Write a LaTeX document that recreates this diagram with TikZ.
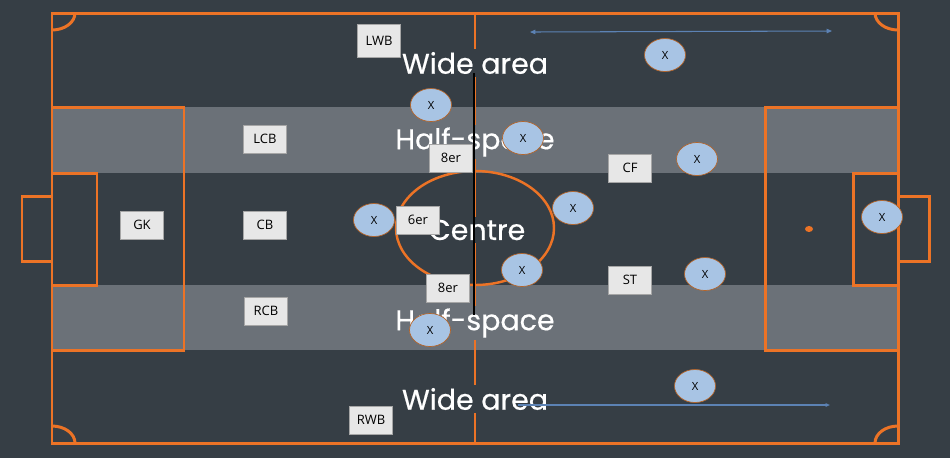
\documentclass[tikz,border=0pt]{standalone}
\usepackage{fontspec}
\setmainfont{Open Sans}
\newfontfamily\zonefont{Poppins}[FakeBold=0.5]
\usetikzlibrary{arrows.meta, shapes.geometric}

\definecolor{pitchbg}{RGB}{54,62,69}
\definecolor{bandgray}{RGB}{107,113,120}
\definecolor{lineorange}{RGB}{236,115,38}
\definecolor{oppblue}{RGB}{168,196,228}
\definecolor{oppedge}{RGB}{181,101,42}
\definecolor{boxgray}{RGB}{231,231,231}
\definecolor{boxedge}{RGB}{166,166,166}
\definecolor{runblue}{RGB}{92,130,180}

\begin{document}
\begin{tikzpicture}[x=0.02cm, y=-0.02cm,
    pitchline/.style={draw=lineorange, line width=1.7pt},
    zone/.style={font=\zonefont\fontsize{16.2}{16}\selectfont, text=white, inner sep=1.5pt},
    player/.style={draw=boxedge, fill=boxgray, minimum width=0.86cm, minimum height=0.56cm, inner sep=1pt, font=\fontsize{7.4}{8}\selectfont},
    opp/.style={ellipse, draw=oppedge, fill=oppblue, minimum width=0.82cm, minimum height=0.66cm, inner sep=0pt, font=\fontsize{6.4}{7}\selectfont},
    run/.style={draw=runblue, line width=0.6pt}]
    % background and bands
    \fill[pitchbg] (0,0) rectangle (950,458);
    \useasboundingbox (0,0) rectangle (950,458);
    \fill[bandgray] (52,107) rectangle (898,173);
    \fill[bandgray] (52,285) rectangle (898,350);
    % pitch lines
    \draw[pitchline] (52,13) rectangle (898,443);
    \draw[pitchline] (52,107) rectangle (184,350);
    \draw[pitchline] (52,173) rectangle (97,285);
    \draw[pitchline] (22,196) rectangle (52,261);
    \draw[pitchline] (765,107) rectangle (898,350);
    \draw[pitchline] (853,173) rectangle (898,285);
    \draw[pitchline] (898,196) rectangle (929,261);
    \draw[pitchline] (75,13) arc[start angle=0, end angle=90, x radius=23, y radius=17];
    \draw[pitchline] (875,13) arc[start angle=180, end angle=90, x radius=23, y radius=17];
    \draw[pitchline] (75,443) arc[start angle=0, end angle=-90, x radius=23, y radius=17];
    \draw[pitchline] (875,443) arc[start angle=180, end angle=270, x radius=23, y radius=17];
    \draw[pitchline] (475,13) -- (475,443);
    \draw[pitchline, line width=1.4pt] (475,228) ellipse[x radius=79, y radius=57];
    \fill[lineorange] (809,229) ellipse[x radius=4, y radius=3];
    % zones
    \node[zone, fill=pitchbg] (wideT) at (475,63) {Wide area};
    \node[zone, fill=bandgray] (halfT) at (475,142) {Half-space};
    \node[zone, fill=pitchbg] (centre) at (477,230) {Centre};
    \node[zone, fill=bandgray] (halfB) at (475,323) {Half-space};
    \node[zone, fill=pitchbg] (wideB) at (475,399) {Wide area};
    \draw[black, line width=1.2pt] (474,73) -- (474,315);
    % runs
    \coordinate (runTa) at (530,32);
    \coordinate (runTb) at (832,31);
    \coordinate (runBa) at (518,405);
    \coordinate (runBb) at (830,405);
    \draw[run, {Triangle[length=3pt,width=2.5pt]}-{Triangle[length=3pt,width=2.5pt]}] (runTa) -- (runTb);
    \draw[run, -{Triangle[length=2.5pt,width=2pt]}] (runBa) -- (runBb);
    % own team
    \node[player, minimum height=0.66cm] (lwb) at (379,41) {LWB};
    \node[player] (lcb) at (265,139) {LCB};
    \node[player] (gk) at (142,225) {GK};
    \node[player] (cb) at (265,225) {CB};
    \node[player] (rcb) at (266,311) {RCB};
    \node[player] (eightT) at (451,158) {8er};
    \node[player] (six) at (418,220) {6er};
    \node[player] (eightB) at (448,288) {8er};
    \node[player] (rwb) at (371,420) {RWB};
    \node[player] (cf) at (630,168) {CF};
    \node[player] (st) at (630,280) {ST};
    % opponents
    \node[opp] (oppWT) at (665,55) {X};
    \node[opp] (oppHL) at (431,105) {X};
    \node[opp] (oppHR) at (523,138) {X};
    \node[opp] (oppCF) at (697,159) {X};
    \node[opp] (oppSix) at (374,220) {X};
    \node[opp] (oppCR) at (573,208) {X};
    \node[opp] (oppCB) at (522,270) {X};
    \node[opp] (oppST) at (705,274) {X};
    \node[opp] (oppHB) at (430,330) {X};
    \node[opp] (oppWB) at (695,386) {X};
    \node[opp] (oppGK) at (882,217) {X};
\end{tikzpicture}
\end{document}
